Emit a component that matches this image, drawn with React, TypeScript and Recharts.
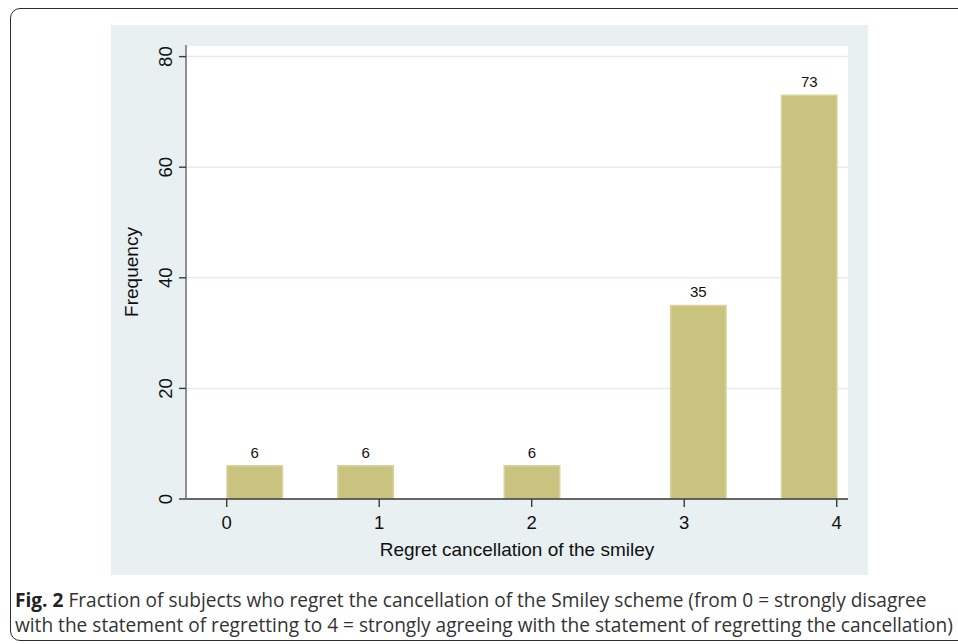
import React from "react";
import { BarChart, Bar, XAxis, YAxis, CartesianGrid, LabelList, Label } from "recharts";

// Histogram bins (width 4/11) that contain observations
const binCenters = [0.1818, 0.9091, 2.0, 3.0909, 3.8182];
const frequencies = [6, 6, 6, 35, 73];
const binWidth = 0.3636;
const xTicks = [0, 1, 2, 3, 4];
const yTicks = [0, 20, 40, 60, 80];
const xTitle = "Regret cancellation of the smiley";
const yTitle = "Frequency";
const captionBold = "Fig. 2";
const captionLine1 = " Fraction of subjects who regret the cancellation of the Smiley scheme (from 0 = strongly disagree";
const captionLine2 = "with the statement of regretting to 4 = strongly agreeing with the statement of regretting the cancellation)";

const data = binCenters.map((c, i) => ({ center: c, freq: frequencies[i] }));

const X_DOMAIN: [number, number] = [-0.267, 4.074];
const Y_DOMAIN: [number, number] = [0, 82.1];

const CHART_W = 757;
const CHART_H = 550;
const MARGIN = { top: 20, right: 20, bottom: 36, left: 25 };
const Y_AXIS_W = 50;
const X_AXIS_H = 40;
const PLOT_W = CHART_W - MARGIN.left - MARGIN.right - Y_AXIS_W;
const PLOT_H = CHART_H - MARGIN.top - MARGIN.bottom - X_AXIS_H;
const PLOT_X = MARGIN.left + Y_AXIS_W;
const BAR_PX = (PLOT_W / (X_DOMAIN[1] - X_DOMAIN[0])) * binWidth;

const FONT = "'Liberation Sans', Arial, Helvetica, sans-serif";

const YTick = (props: any) => {
  const { x, y, payload } = props;
  const tx = x - 7;
  return (
    <text
      x={tx}
      y={y}
      transform={`rotate(-90, ${tx}, ${y})`}
      textAnchor="middle"
      fontSize={18.5}
      fontFamily={FONT}
      fill="#111"
    >
      {payload.value}
    </text>
  );
};

const XTick = (props: any) => {
  const { x, y, payload } = props;
  return (
    <text x={x} y={y + 21.5} textAnchor="middle" fontSize={18.5} fontFamily={FONT} fill="#111">
      {payload.value}
    </text>
  );
};

const BarLabel = (props: any) => {
  const { x, y, width, value } = props;
  return (
    <text x={x + width / 2} y={y - 8} textAnchor="middle" fontSize={15} fontFamily={FONT} fill="#111">
      {value}
    </text>
  );
};

export default function App() {
  return (
    <div
      style={{
        position: "absolute",
        left: 0,
        top: 0,
        width: 958,
        height: 644,
        overflow: "hidden",
        background: "#fff",
      }}
    >
      <div
        style={{
          position: "absolute",
          left: 10,
          top: 8,
          width: 970,
          height: 633,
          border: "1.6px solid #2e2e2e",
          borderRadius: 10,
          boxSizing: "border-box",
        }}
      />
      <div
        style={{
          position: "absolute",
          left: 111,
          top: 25,
          width: CHART_W,
          height: CHART_H,
          background: "#E8F0F2",
        }}
      >
        <BarChart width={CHART_W} height={CHART_H} data={data} margin={MARGIN} barCategoryGap={0}>
          <CartesianGrid
            horizontal
            vertical={false}
            fill="#ffffff"
            fillOpacity={1}
            stroke="#E3ECF0"
            strokeWidth={1.5}
          />
          <XAxis
            type="number"
            dataKey="center"
            domain={X_DOMAIN}
            ticks={xTicks}
            allowDataOverflow
            height={X_AXIS_H}
            tickSize={8}
            tickMargin={0}
            interval={0}
            axisLine={{ stroke: "#3a3a3a", strokeWidth: 1.6 }}
            tickLine={{ stroke: "#3a3a3a", strokeWidth: 1.4 }}
            tick={<XTick />}
          >
            <Label
              content={() => (
                <text
                  x={PLOT_X + PLOT_W / 2}
                  y={531}
                  textAnchor="middle"
                  fontSize={19}
                  fontFamily={FONT}
                  fill="#111"
                >
                  {xTitle}
                </text>
              )}
            />
          </XAxis>
          <YAxis
            type="number"
            domain={Y_DOMAIN}
            ticks={yTicks}
            allowDataOverflow
            width={Y_AXIS_W}
            tickSize={7}
            tickMargin={0}
            interval={0}
            axisLine={{ stroke: "#858585", strokeWidth: 1.8 }}
            tickLine={{ stroke: "#3a3a3a", strokeWidth: 1.4 }}
            tick={<YTick />}
          >
            <Label
              content={() => (
                <text
                  x={27}
                  y={MARGIN.top + PLOT_H / 2}
                  transform={`rotate(-90, 27, ${MARGIN.top + PLOT_H / 2})`}
                  textAnchor="middle"
                  fontSize={19}
                  fontFamily={FONT}
                  fill="#111"
                >
                  {yTitle}
                </text>
              )}
            />
          </YAxis>
          <Bar
            dataKey="freq"
            barSize={BAR_PX}
            fill="#C9C37F"
            stroke="#D8D39E"
            strokeWidth={1.5}
            isAnimationActive={false}
          >
            <LabelList dataKey="freq" content={<BarLabel />} />
          </Bar>
        </BarChart>
      </div>
      <div
        style={{
          position: "absolute",
          left: 15,
          top: 588,
          fontFamily: "'Open Sans', 'Noto Sans', sans-serif",
          fontSize: 19.1,
          lineHeight: "25px",
          color: "#333",
          whiteSpace: "nowrap",
        }}
      >
        <div>
          <span style={{ fontWeight: 700, color: "#222" }}>{captionBold}</span>
          {captionLine1}
        </div>
        <div>{captionLine2}</div>
      </div>
    </div>
  );
}
